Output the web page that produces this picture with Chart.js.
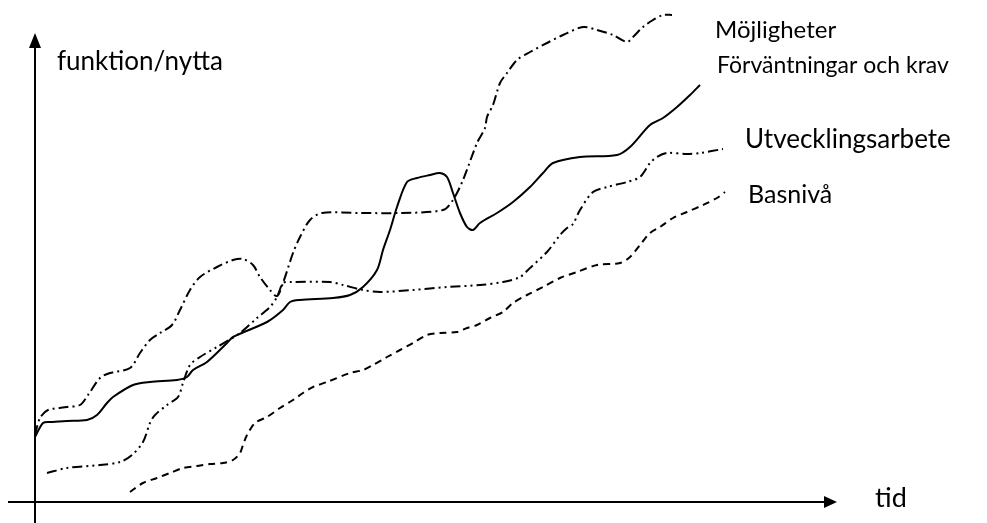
<!DOCTYPE html>
<html>
<head>
<meta charset="utf-8">
<script src="https://cdn.jsdelivr.net/npm/chart.js@4.4.1/dist/chart.umd.min.js"></script>
<style>
  html, body { margin: 0; padding: 0; background: #ffffff; }
  #wrap { width: 987px; height: 523px; }
</style>
</head>
<body>
<div id="wrap"><canvas id="c" width="987" height="523"></canvas></div>
<script>
// ---- Data (arbitrary units: tid along x, funktion/nytta along y) ----
const seriesNames = ["Möjligheter", "Förväntningar och krav", "Utvecklingsarbete", "Basnivå"];
const axisTitleY = "funktion/nytta";
const axisTitleX = "tid";

const mojligheterX = [0, 0.5, 1.3, 3.2, 4.5, 5.3, 6.5, 7.5, 9.5, 10.5, 11.5, 12.5, 13.7, 14.5, 15.5, 16.5, 18.2, 19.8, 20.8, 21.8, 22.5, 23.5, 24.2, 24.8, 25.8, 26.5, 27.5, 28.7, 32.5, 36.5, 40.8, 41.8, 42.8, 44.2, 45.0, 45.2, 45.8, 46.5, 47.2, 48.2, 49.5, 51.2, 52.8, 54.8, 56.2, 57.8, 59.2, 59.8, 60.8, 61.8, 62.8, 63.7];
const mojligheterY = [6.7, 8.4, 9.2, 9.5, 9.7, 10.7, 12.4, 12.9, 13.4, 14.9, 16.2, 16.9, 17.7, 19.2, 21.2, 22.5, 23.5, 24.2, 24.3, 23.7, 22.5, 21.2, 20.6, 21.9, 24.9, 26.5, 28.2, 28.9, 28.9, 28.9, 29.2, 30.2, 32.2, 35.9, 37.4, 38.5, 39.7, 41.9, 42.9, 44.2, 45.0, 45.9, 46.7, 47.5, 47.2, 46.7, 46.0, 46.5, 47.5, 48.2, 48.7, 48.7];

const forvantningarX = [0, 0.8, 1.5, 3.2, 5.2, 6.2, 7.2, 7.8, 9.8, 11.5, 14.2, 15.2, 15.8, 17.2, 19.2, 19.8, 23.2, 24.8, 25.5, 26.5, 29.8, 31.5, 32.8, 34.2, 34.8, 35.5, 36.2, 37.2, 38.2, 39.5, 40.5, 41.2, 41.8, 42.5, 43.2, 43.8, 44.5, 46.2, 47.8, 49.5, 50.8, 51.8, 54.5, 58.2, 59.5, 61.5, 62.8, 64.2, 65.5, 66.5];
const forvantningarY = [6.5, 7.9, 8.0, 8.1, 8.2, 8.7, 9.9, 10.5, 11.7, 12.0, 12.2, 12.5, 13.2, 14.0, 15.9, 16.5, 18.0, 19.2, 20.0, 20.2, 20.4, 20.7, 21.5, 23.2, 25.2, 27.2, 29.5, 32.0, 32.4, 32.7, 32.9, 32.5, 30.9, 28.9, 27.5, 27.2, 27.9, 28.9, 30.0, 31.5, 32.9, 33.9, 34.5, 34.7, 35.5, 37.7, 38.4, 39.5, 40.7, 41.7];

const utvecklingX = [1.2, 3.2, 6.5, 8.5, 9.7, 10.8, 11.5, 12.0, 13.2, 14.3, 14.8, 15.5, 16.5, 18.2, 20.5, 22.2, 23.5, 24.2, 24.8, 25.5, 29.5, 30.8, 32.8, 34.5, 37.8, 41.2, 44.5, 46.8, 48.5, 49.5, 51.2, 52.5, 53.2, 53.8, 54.5, 55.8, 57.2, 59.2, 60.5, 61.5, 62.2, 63.2, 65.2, 66.5, 68.8];
const utvecklingY = [2.9, 3.4, 3.7, 4.0, 4.7, 6.0, 7.9, 8.7, 9.7, 10.5, 11.9, 13.7, 14.5, 15.5, 16.9, 18.4, 19.5, 20.5, 21.9, 22.0, 22.0, 21.7, 21.2, 21.0, 21.2, 21.5, 21.7, 22.0, 22.5, 23.4, 25.0, 26.7, 27.4, 27.8, 29.2, 31.0, 31.5, 32.0, 32.5, 33.9, 34.5, 34.9, 34.8, 34.9, 35.3];

const basnivaX = [9.5, 10.8, 12.2, 13.5, 14.8, 16.2, 17.5, 18.8, 19.8, 20.5, 20.8, 21.2, 22.0, 23.2, 24.5, 25.8, 26.8, 27.8, 29.2, 31.5, 32.8, 33.8, 35.2, 36.5, 37.8, 39.2, 40.5, 42.2, 43.2, 44.2, 45.5, 46.8, 47.8, 49.2, 50.8, 52.5, 54.2, 56.2, 58.5, 59.5, 60.5, 61.5, 62.5, 63.8, 65.2, 66.8, 68.2, 69.0];
const basnivaY = [1.0, 1.9, 2.4, 2.9, 3.4, 3.6, 3.8, 3.9, 4.2, 4.9, 5.7, 6.7, 7.9, 8.5, 9.4, 10.2, 10.9, 11.5, 12.0, 12.9, 13.2, 13.7, 14.5, 15.2, 15.9, 16.7, 16.9, 17.0, 17.4, 17.7, 18.4, 19.0, 19.9, 20.7, 21.5, 22.4, 23.0, 23.7, 23.9, 24.5, 25.7, 26.9, 27.5, 28.4, 29.0, 29.7, 30.4, 31.0];

// ---- Build datasets ----
function pts(xs, ys) { return xs.map((x, i) => ({ x: x, y: ys[i] })); }

const lineStyles = [
  { dash: [10, 4, 2, 4] },
  { dash: [] },
  { dash: [10, 4, 2, 4, 2, 4] },
  { dash: [7, 5] }
];
const seriesData = [
  pts(mojligheterX, mojligheterY),
  pts(forvantningarX, forvantningarY),
  pts(utvecklingX, utvecklingY),
  pts(basnivaX, basnivaY)
];

const datasets = seriesNames.map((name, i) => ({
  label: name,
  data: seriesData[i],
  borderColor: '#000000',
  borderWidth: 2,
  borderDash: lineStyles[i].dash,
  pointRadius: 0,
  tension: 0.3,
  fill: false,
  clip: false
}));

// ---- Plugin: arrow axes and texts ----
const FONT = '"Lato", "Liberation Sans", sans-serif';
const sketchPlugin = {
  id: 'sketch',
  afterDatasetsDraw(chart) {
    const ctx = chart.ctx;
    const xs = chart.scales.x, ys = chart.scales.y;
    const x0 = xs.getPixelForValue(0);
    const y0 = ys.getPixelForValue(0);
    const xEnd = chart.chartArea.right;
    ctx.save();
    ctx.setLineDash([]);
    ctx.strokeStyle = '#000';
    ctx.fillStyle = '#000';
    ctx.lineWidth = 2;
    // y axis
    ctx.beginPath();
    ctx.moveTo(x0, chart.height);
    ctx.lineTo(x0, 44);
    ctx.stroke();
    ctx.beginPath();
    ctx.moveTo(x0, 33);
    ctx.lineTo(x0 - 6, 48);
    ctx.lineTo(x0 + 6, 48);
    ctx.closePath();
    ctx.fill();
    // x axis
    ctx.beginPath();
    ctx.moveTo(8, y0);
    ctx.lineTo(xEnd - 8, y0);
    ctx.stroke();
    ctx.beginPath();
    ctx.moveTo(xEnd, y0);
    ctx.lineTo(xEnd - 13, y0 - 6);
    ctx.lineTo(xEnd - 13, y0 + 6);
    ctx.closePath();
    ctx.fill();

    // texts
    ctx.textBaseline = 'alphabetic';
    ctx.textAlign = 'left';
    const draw = (t, x, y, size) => { ctx.font = size + 'px ' + FONT; ctx.fillText(t, x, y); };
    draw(axisTitleY, 57, 70, 26);
    draw(axisTitleX, 875, 507, 27);
    const labelPos = [[715, 38, 24], [717, 73, 23], [745, 148, 26], [748, 203, 25]];
    seriesNames.forEach((n, i) => draw(n, labelPos[i][0], labelPos[i][1], labelPos[i][2]));
    ctx.restore();
  }
};

new Chart(document.getElementById('c'), {
  type: 'line',
  data: { datasets: datasets },
  options: {
    responsive: false,
    animation: false,
    devicePixelRatio: 1,
    layout: { padding: { left: 35, right: 150, top: 10, bottom: 21 } },
    plugins: { legend: { display: false }, tooltip: { enabled: false } },
    scales: {
      x: { type: 'linear', min: 0, max: 80.2, display: false },
      y: { type: 'linear', min: 0, max: 49.2, display: false }
    }
  },
  plugins: [sketchPlugin]
});
</script>
</body>
</html>
